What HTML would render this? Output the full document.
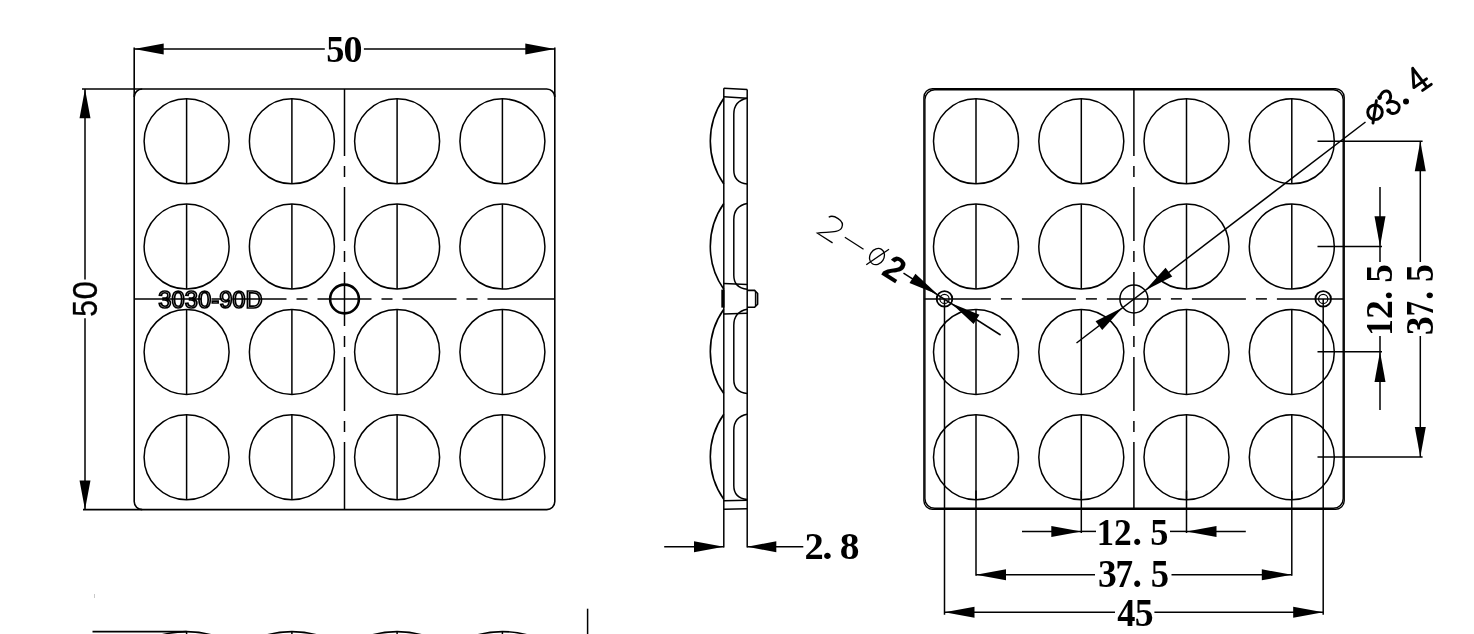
<!DOCTYPE html>
<html><head><meta charset="utf-8"><style>
html,body{margin:0;padding:0;background:#fff;width:1474px;height:634px;overflow:hidden;}
svg{display:block;filter:grayscale(100%);}
.d{font-family:"Liberation Serif",serif;font-weight:bold;}
</style></head><body><svg width="1474" height="634" viewBox="0 0 1474 634"><g stroke="#000" stroke-linecap="butt" fill="none"><rect x="134.2" y="89.0" width="420.60" height="420.60" rx="8" fill="none" stroke-width="1.6"/><line x1="134.20" y1="97.00" x2="134.20" y2="47.50" stroke-width="1.6"/><line x1="554.80" y1="97.00" x2="554.80" y2="47.50" stroke-width="1.6"/><line x1="142.20" y1="89.00" x2="82.00" y2="89.00" stroke-width="1.6"/><line x1="142.20" y1="509.60" x2="83.00" y2="509.60" stroke-width="1.6"/><line x1="134.20" y1="49.10" x2="324.80" y2="49.10" stroke-width="1.5"/><line x1="363.90" y1="49.10" x2="554.80" y2="49.10" stroke-width="1.5"/><polygon points="134.20,49.10 163.70,54.60 163.70,43.60" fill="#000" stroke="none"/><polygon points="554.80,49.10 525.30,43.60 525.30,54.60" fill="#000" stroke="none"/><line x1="85.00" y1="89.00" x2="85.00" y2="279.60" stroke-width="1.5"/><line x1="85.00" y1="318.30" x2="85.00" y2="509.60" stroke-width="1.5"/><polygon points="85.00,89.00 79.50,118.20 90.50,118.20" fill="#000" stroke="none"/><polygon points="85.00,509.60 90.50,480.40 79.50,480.40" fill="#000" stroke="none"/><circle cx="186.60" cy="141.30" r="42.50" fill="none" stroke-width="1.5"/><line x1="186.60" y1="98.80" x2="186.60" y2="183.80" stroke-width="1.5"/><circle cx="186.60" cy="246.60" r="42.50" fill="none" stroke-width="1.5"/><line x1="186.60" y1="204.10" x2="186.60" y2="289.10" stroke-width="1.5"/><circle cx="186.60" cy="351.90" r="42.50" fill="none" stroke-width="1.5"/><line x1="186.60" y1="309.40" x2="186.60" y2="394.40" stroke-width="1.5"/><circle cx="186.60" cy="457.20" r="42.50" fill="none" stroke-width="1.5"/><line x1="186.60" y1="414.70" x2="186.60" y2="499.70" stroke-width="1.5"/><circle cx="291.90" cy="141.30" r="42.50" fill="none" stroke-width="1.5"/><line x1="291.90" y1="98.80" x2="291.90" y2="183.80" stroke-width="1.5"/><circle cx="291.90" cy="246.60" r="42.50" fill="none" stroke-width="1.5"/><line x1="291.90" y1="204.10" x2="291.90" y2="289.10" stroke-width="1.5"/><circle cx="291.90" cy="351.90" r="42.50" fill="none" stroke-width="1.5"/><line x1="291.90" y1="309.40" x2="291.90" y2="394.40" stroke-width="1.5"/><circle cx="291.90" cy="457.20" r="42.50" fill="none" stroke-width="1.5"/><line x1="291.90" y1="414.70" x2="291.90" y2="499.70" stroke-width="1.5"/><circle cx="397.10" cy="141.30" r="42.50" fill="none" stroke-width="1.5"/><line x1="397.10" y1="98.80" x2="397.10" y2="183.80" stroke-width="1.5"/><circle cx="397.10" cy="246.60" r="42.50" fill="none" stroke-width="1.5"/><line x1="397.10" y1="204.10" x2="397.10" y2="289.10" stroke-width="1.5"/><circle cx="397.10" cy="351.90" r="42.50" fill="none" stroke-width="1.5"/><line x1="397.10" y1="309.40" x2="397.10" y2="394.40" stroke-width="1.5"/><circle cx="397.10" cy="457.20" r="42.50" fill="none" stroke-width="1.5"/><line x1="397.10" y1="414.70" x2="397.10" y2="499.70" stroke-width="1.5"/><circle cx="502.40" cy="141.30" r="42.50" fill="none" stroke-width="1.5"/><line x1="502.40" y1="98.80" x2="502.40" y2="183.80" stroke-width="1.5"/><circle cx="502.40" cy="246.60" r="42.50" fill="none" stroke-width="1.5"/><line x1="502.40" y1="204.10" x2="502.40" y2="289.10" stroke-width="1.5"/><circle cx="502.40" cy="351.90" r="42.50" fill="none" stroke-width="1.5"/><line x1="502.40" y1="309.40" x2="502.40" y2="394.40" stroke-width="1.5"/><circle cx="502.40" cy="457.20" r="42.50" fill="none" stroke-width="1.5"/><line x1="502.40" y1="414.70" x2="502.40" y2="499.70" stroke-width="1.5"/><line x1="317.50" y1="299.00" x2="371.50" y2="299.00" stroke-width="1.5"/><line x1="381.50" y1="299.00" x2="392.50" y2="299.00" stroke-width="1.5"/><line x1="296.50" y1="299.00" x2="307.50" y2="299.00" stroke-width="1.5"/><line x1="402.50" y1="299.00" x2="456.50" y2="299.00" stroke-width="1.5"/><line x1="232.50" y1="299.00" x2="286.50" y2="299.00" stroke-width="1.5"/><line x1="466.50" y1="299.00" x2="477.50" y2="299.00" stroke-width="1.5"/><line x1="211.50" y1="299.00" x2="222.50" y2="299.00" stroke-width="1.5"/><line x1="487.50" y1="299.00" x2="554.80" y2="299.00" stroke-width="1.5"/><line x1="134.20" y1="299.00" x2="201.50" y2="299.00" stroke-width="1.5"/><line x1="344.50" y1="272.00" x2="344.50" y2="326.00" stroke-width="1.5"/><line x1="344.50" y1="336.00" x2="344.50" y2="347.00" stroke-width="1.5"/><line x1="344.50" y1="251.00" x2="344.50" y2="262.00" stroke-width="1.5"/><line x1="344.50" y1="357.00" x2="344.50" y2="411.00" stroke-width="1.5"/><line x1="344.50" y1="187.00" x2="344.50" y2="241.00" stroke-width="1.5"/><line x1="344.50" y1="421.00" x2="344.50" y2="432.00" stroke-width="1.5"/><line x1="344.50" y1="166.00" x2="344.50" y2="177.00" stroke-width="1.5"/><line x1="344.50" y1="442.00" x2="344.50" y2="509.60" stroke-width="1.5"/><line x1="344.50" y1="89.00" x2="344.50" y2="156.00" stroke-width="1.5"/><circle cx="344.50" cy="299.00" r="14.40" fill="none" stroke-width="2.6"/><line x1="723.80" y1="88.20" x2="723.80" y2="547.60" stroke-width="1.5"/><line x1="747.20" y1="89.50" x2="747.20" y2="547.60" stroke-width="1.5"/><line x1="723.80" y1="88.20" x2="747.20" y2="89.50" stroke-width="1.5"/><line x1="723.80" y1="96.80" x2="747.20" y2="98.20" stroke-width="1.5"/><line x1="723.80" y1="283.50" x2="747.20" y2="284.40" stroke-width="1.5"/><line x1="723.80" y1="314.00" x2="747.20" y2="313.30" stroke-width="1.5"/><line x1="723.80" y1="500.80" x2="747.20" y2="500.20" stroke-width="1.5"/><line x1="723.80" y1="509.30" x2="747.20" y2="508.80" stroke-width="1.5"/><path d="M723.8,98.2 A74.91,74.91 0 0 0 723.8,184.0" fill="none" stroke-width="1.6"/><path d="M747.2,98.2 C737,100.2 733.8,106.2 733.8,114.2 L733.8,170.0 C733.8,178.0 737,183.0 747.2,184.0" fill="none" stroke-width="1.5"/><path d="M723.8,203.5 A74.91,74.91 0 0 0 723.8,289.3" fill="none" stroke-width="1.6"/><path d="M747.2,203.5 C737,205.5 733.8,211.5 733.8,219.5 L733.8,275.3 C733.8,283.3 737,288.3 747.2,289.3" fill="none" stroke-width="1.5"/><path d="M723.8,309.3 A72.39,72.39 0 0 0 723.8,393.5" fill="none" stroke-width="1.6"/><path d="M747.2,309.3 C737,311.3 733.8,317.3 733.8,325.3 L733.8,379.5 C733.8,387.5 737,392.5 747.2,393.5" fill="none" stroke-width="1.5"/><path d="M723.8,414.2 A73.96,73.96 0 0 0 723.8,499.4" fill="none" stroke-width="1.6"/><path d="M747.2,414.2 C737,416.2 733.8,422.2 733.8,430.2 L733.8,485.4 C733.8,493.4 737,498.4 747.2,499.4" fill="none" stroke-width="1.5"/><rect x="755.4" y="292" width="2" height="13.5" fill="#aaa" stroke="none"/><path d="M747.2,290.4 L754.6,290.4 L757.6,293.5 L757.6,304.2 L754.6,307.3 L747.2,307.3" fill="none" stroke-width="1.6"/><line x1="755.40" y1="291.00" x2="755.40" y2="306.80" stroke-width="1.1"/><rect x="721.3" y="289.6" width="3.2" height="18" fill="#000" stroke="none"/><line x1="664.20" y1="546.80" x2="723.80" y2="546.80" stroke-width="1.5"/><line x1="747.20" y1="546.80" x2="803.30" y2="546.80" stroke-width="1.5"/><polygon points="723.80,546.80 694.00,541.30 694.00,552.30" fill="#000" stroke="none"/><polygon points="747.20,546.80 776.30,552.30 776.30,541.30" fill="#000" stroke="none"/><rect x="923.9" y="88.8" width="420.30" height="420.50" rx="8.5" fill="none" stroke-width="1.4"/><rect x="924.9" y="89.8" width="418.30" height="418.50" rx="9.8" fill="none" stroke-width="1.4"/><circle cx="976.00" cy="141.30" r="42.50" fill="none" stroke-width="1.5"/><line x1="976.00" y1="98.80" x2="976.00" y2="183.80" stroke-width="1.5"/><circle cx="976.00" cy="246.60" r="42.50" fill="none" stroke-width="1.5"/><line x1="976.00" y1="204.10" x2="976.00" y2="289.10" stroke-width="1.5"/><circle cx="976.00" cy="351.90" r="42.50" fill="none" stroke-width="1.5"/><line x1="976.00" y1="309.40" x2="976.00" y2="394.40" stroke-width="1.5"/><circle cx="976.00" cy="457.20" r="42.50" fill="none" stroke-width="1.5"/><line x1="976.00" y1="414.70" x2="976.00" y2="499.70" stroke-width="1.5"/><circle cx="1081.30" cy="141.30" r="42.50" fill="none" stroke-width="1.5"/><line x1="1081.30" y1="98.80" x2="1081.30" y2="183.80" stroke-width="1.5"/><circle cx="1081.30" cy="246.60" r="42.50" fill="none" stroke-width="1.5"/><line x1="1081.30" y1="204.10" x2="1081.30" y2="289.10" stroke-width="1.5"/><circle cx="1081.30" cy="351.90" r="42.50" fill="none" stroke-width="1.5"/><line x1="1081.30" y1="309.40" x2="1081.30" y2="394.40" stroke-width="1.5"/><circle cx="1081.30" cy="457.20" r="42.50" fill="none" stroke-width="1.5"/><line x1="1081.30" y1="414.70" x2="1081.30" y2="499.70" stroke-width="1.5"/><circle cx="1186.50" cy="141.30" r="42.50" fill="none" stroke-width="1.5"/><line x1="1186.50" y1="98.80" x2="1186.50" y2="183.80" stroke-width="1.5"/><circle cx="1186.50" cy="246.60" r="42.50" fill="none" stroke-width="1.5"/><line x1="1186.50" y1="204.10" x2="1186.50" y2="289.10" stroke-width="1.5"/><circle cx="1186.50" cy="351.90" r="42.50" fill="none" stroke-width="1.5"/><line x1="1186.50" y1="309.40" x2="1186.50" y2="394.40" stroke-width="1.5"/><circle cx="1186.50" cy="457.20" r="42.50" fill="none" stroke-width="1.5"/><line x1="1186.50" y1="414.70" x2="1186.50" y2="499.70" stroke-width="1.5"/><circle cx="1291.80" cy="141.30" r="42.50" fill="none" stroke-width="1.5"/><line x1="1291.80" y1="98.80" x2="1291.80" y2="183.80" stroke-width="1.5"/><circle cx="1291.80" cy="246.60" r="42.50" fill="none" stroke-width="1.5"/><line x1="1291.80" y1="204.10" x2="1291.80" y2="289.10" stroke-width="1.5"/><circle cx="1291.80" cy="351.90" r="42.50" fill="none" stroke-width="1.5"/><line x1="1291.80" y1="309.40" x2="1291.80" y2="394.40" stroke-width="1.5"/><circle cx="1291.80" cy="457.20" r="42.50" fill="none" stroke-width="1.5"/><line x1="1291.80" y1="414.70" x2="1291.80" y2="499.70" stroke-width="1.5"/><line x1="1106.90" y1="298.90" x2="1160.90" y2="298.90" stroke-width="1.5"/><line x1="1170.90" y1="298.90" x2="1181.90" y2="298.90" stroke-width="1.5"/><line x1="1085.90" y1="298.90" x2="1096.90" y2="298.90" stroke-width="1.5"/><line x1="1191.90" y1="298.90" x2="1245.90" y2="298.90" stroke-width="1.5"/><line x1="1021.90" y1="298.90" x2="1075.90" y2="298.90" stroke-width="1.5"/><line x1="1255.90" y1="298.90" x2="1266.90" y2="298.90" stroke-width="1.5"/><line x1="1000.90" y1="298.90" x2="1011.90" y2="298.90" stroke-width="1.5"/><line x1="1276.90" y1="298.90" x2="1343.70" y2="298.90" stroke-width="1.5"/><line x1="924.40" y1="298.90" x2="990.90" y2="298.90" stroke-width="1.5"/><line x1="1133.90" y1="271.90" x2="1133.90" y2="325.90" stroke-width="1.5"/><line x1="1133.90" y1="335.90" x2="1133.90" y2="346.90" stroke-width="1.5"/><line x1="1133.90" y1="250.90" x2="1133.90" y2="261.90" stroke-width="1.5"/><line x1="1133.90" y1="356.90" x2="1133.90" y2="410.90" stroke-width="1.5"/><line x1="1133.90" y1="186.90" x2="1133.90" y2="240.90" stroke-width="1.5"/><line x1="1133.90" y1="420.90" x2="1133.90" y2="431.90" stroke-width="1.5"/><line x1="1133.90" y1="165.90" x2="1133.90" y2="176.90" stroke-width="1.5"/><line x1="1133.90" y1="441.90" x2="1133.90" y2="508.80" stroke-width="1.5"/><line x1="1133.90" y1="89.30" x2="1133.90" y2="155.90" stroke-width="1.5"/><circle cx="1133.90" cy="298.90" r="14.00" fill="none" stroke-width="1.5"/><circle cx="944.50" cy="298.90" r="7.80" fill="none" stroke-width="1.8"/><circle cx="944.50" cy="298.90" r="4.60" fill="none" stroke-width="1.2"/><line x1="944.50" y1="298.90" x2="944.50" y2="614.80" stroke-width="1.5"/><circle cx="1323.20" cy="298.90" r="7.80" fill="none" stroke-width="1.8"/><circle cx="1323.20" cy="298.90" r="4.60" fill="none" stroke-width="1.2"/><line x1="1323.20" y1="298.90" x2="1323.20" y2="614.80" stroke-width="1.5"/><line x1="976.00" y1="490.50" x2="976.00" y2="575.80" stroke-width="1.5"/><line x1="1291.80" y1="490.50" x2="1291.80" y2="575.80" stroke-width="1.5"/><line x1="1081.30" y1="490.50" x2="1081.30" y2="533.00" stroke-width="1.5"/><line x1="1186.50" y1="490.50" x2="1186.50" y2="533.00" stroke-width="1.5"/><line x1="1022.00" y1="531.40" x2="1081.30" y2="531.40" stroke-width="1.5"/><line x1="1186.50" y1="531.40" x2="1245.80" y2="531.40" stroke-width="1.5"/><line x1="1081.30" y1="531.40" x2="1096.00" y2="531.40" stroke-width="1.5"/><line x1="1170.00" y1="531.40" x2="1186.50" y2="531.40" stroke-width="1.5"/><polygon points="1081.30,531.40 1051.30,525.90 1051.30,536.90" fill="#000" stroke="none"/><polygon points="1186.50,531.40 1216.50,536.90 1216.50,525.90" fill="#000" stroke="none"/><line x1="976.00" y1="574.80" x2="1095.00" y2="574.80" stroke-width="1.5"/><line x1="1171.50" y1="574.80" x2="1291.80" y2="574.80" stroke-width="1.5"/><polygon points="976.00,574.80 1006.00,580.30 1006.00,569.30" fill="#000" stroke="none"/><polygon points="1291.80,574.80 1261.80,569.30 1261.80,580.30" fill="#000" stroke="none"/><line x1="944.50" y1="612.30" x2="1115.00" y2="612.30" stroke-width="1.5"/><line x1="1154.40" y1="612.30" x2="1323.20" y2="612.30" stroke-width="1.5"/><polygon points="944.50,612.30 974.50,617.80 974.50,606.80" fill="#000" stroke="none"/><polygon points="1323.20,612.30 1293.20,606.80 1293.20,617.80" fill="#000" stroke="none"/><line x1="1317.50" y1="141.20" x2="1422.60" y2="141.20" stroke-width="1.5"/><line x1="1317.50" y1="457.00" x2="1422.60" y2="457.00" stroke-width="1.5"/><line x1="1317.50" y1="246.40" x2="1382.00" y2="246.40" stroke-width="1.5"/><line x1="1317.50" y1="351.80" x2="1382.00" y2="351.80" stroke-width="1.5"/><line x1="1380.00" y1="187.00" x2="1380.00" y2="262.00" stroke-width="1.5"/><line x1="1380.00" y1="336.00" x2="1380.00" y2="410.00" stroke-width="1.5"/><polygon points="1380.00,246.40 1385.50,216.20 1374.50,216.20" fill="#000" stroke="none"/><polygon points="1380.00,351.80 1374.50,382.00 1385.50,382.00" fill="#000" stroke="none"/><line x1="1420.30" y1="141.20" x2="1420.30" y2="262.00" stroke-width="1.5"/><line x1="1420.30" y1="336.00" x2="1420.30" y2="457.00" stroke-width="1.5"/><polygon points="1420.30,141.20 1414.80,171.20 1425.80,171.20" fill="#000" stroke="none"/><polygon points="1420.30,457.00 1425.80,427.00 1414.80,427.00" fill="#000" stroke="none"/><line x1="1076.50" y1="343.00" x2="1365.50" y2="122.00" stroke-width="1.5"/><polygon points="1145.04,290.42 1172.23,276.61 1165.57,267.86" fill="#000" stroke="none"/><polygon points="1122.76,307.38 1095.57,321.19 1102.23,329.94" fill="#000" stroke="none"/><line x1="903.50" y1="273.20" x2="1000.60" y2="335.00" stroke-width="1.5"/><polygon points="937.75,294.60 915.41,273.84 909.50,283.12" fill="#000" stroke="none"/><polygon points="951.25,303.20 973.59,323.96 979.50,314.68" fill="#000" stroke="none"/><line x1="92.50" y1="631.60" x2="186.60" y2="631.60" stroke-width="1.6"/><circle cx="186.60" cy="726.60" r="95.00" fill="none" stroke-width="1.6"/><line x1="186.60" y1="631.50" x2="186.60" y2="640.00" stroke-width="1.5"/><circle cx="291.90" cy="726.60" r="95.00" fill="none" stroke-width="1.6"/><line x1="291.90" y1="631.50" x2="291.90" y2="640.00" stroke-width="1.5"/><circle cx="397.10" cy="726.60" r="95.00" fill="none" stroke-width="1.6"/><line x1="397.10" y1="631.50" x2="397.10" y2="640.00" stroke-width="1.5"/><circle cx="502.40" cy="726.60" r="95.00" fill="none" stroke-width="1.6"/><line x1="502.40" y1="631.50" x2="502.40" y2="640.00" stroke-width="1.5"/><line x1="587.60" y1="608.70" x2="587.60" y2="634.00" stroke-width="1.5"/><line x1="94.5" y1="594" x2="94.5" y2="598" stroke="#bbb" stroke-width="0.8"/></g><g fill="#000"><text font-family="Liberation Serif" font-weight="bold" font-size="100" transform="matrix(0.3638,0,0,0.3853,326.14,61.62)" >5</text><text font-family="Liberation Serif" font-weight="bold" font-size="100" transform="matrix(0.3799,0,0,0.3853,343.55,61.62)" >0</text><text font-family="Liberation Serif" font-weight="bold" font-size="100" transform="matrix(0.3855,0,0,0.3838,804.38,559.43)" >2</text><text font-family="Liberation Serif" font-weight="bold" font-size="100" transform="matrix(0.4133,0,0,0.3838,822.28,559.43)" >.</text><text font-family="Liberation Serif" font-weight="bold" font-size="100" transform="matrix(0.3944,0,0,0.3838,839.79,559.43)" >8</text><text font-family="Liberation Serif" font-weight="bold" font-size="100" transform="matrix(0.3450,0,0,0.3825,1096.64,544.73)" >1</text><text font-family="Liberation Serif" font-weight="bold" font-size="100" transform="matrix(0.3542,0,0,0.3825,1114.01,544.73)" >2</text><text font-family="Liberation Serif" font-weight="bold" font-size="100" transform="matrix(0.3763,0,0,0.3825,1132.55,544.73)" >.</text><text font-family="Liberation Serif" font-weight="bold" font-size="100" transform="matrix(0.3638,0,0,0.3825,1150.24,544.73)" >5</text><text font-family="Liberation Serif" font-weight="bold" font-size="100" transform="matrix(0.3760,0,0,0.3900,1097.99,587.42)" >3</text><text font-family="Liberation Serif" font-weight="bold" font-size="100" transform="matrix(0.3513,0,0,0.3900,1115.49,587.42)" >7</text><text font-family="Liberation Serif" font-weight="bold" font-size="100" transform="matrix(0.3763,0,0,0.3900,1132.55,587.42)" >.</text><text font-family="Liberation Serif" font-weight="bold" font-size="100" transform="matrix(0.3661,0,0,0.3900,1150.83,587.42)" >5</text><text font-family="Liberation Serif" font-weight="bold" font-size="100" transform="matrix(0.3634,0,0,0.3952,1117.30,625.71)" >4</text><text font-family="Liberation Serif" font-weight="bold" font-size="100" transform="matrix(0.3779,0,0,0.3952,1134.69,625.71)" >5</text><g stroke="#000" stroke-width="0.9"><g transform="rotate(-90)"><text font-family="Liberation Sans" font-weight="normal" font-size="100" transform="matrix(0.2995,0,0,0.3503,-316.80,96.96)" >5</text><text font-family="Liberation Sans" font-weight="normal" font-size="100" transform="matrix(0.3305,0,0,0.3503,-299.59,96.96)" >0</text></g></g><g transform="rotate(-90)"><text font-family="Liberation Serif" font-weight="bold" font-size="100" transform="matrix(0.3287,0,0,0.3795,-335.73,1392.23)" >1</text><text font-family="Liberation Serif" font-weight="bold" font-size="100" transform="matrix(0.3783,0,0,0.3795,-319.09,1392.23)" >2</text><text font-family="Liberation Serif" font-weight="bold" font-size="100" transform="matrix(0.3516,0,0,0.3795,-299.85,1392.23)" >.</text><text font-family="Liberation Serif" font-weight="bold" font-size="100" transform="matrix(0.3709,0,0,0.3795,-282.78,1392.23)" >5</text></g><g transform="rotate(-90)"><text font-family="Liberation Serif" font-weight="bold" font-size="100" transform="matrix(0.3806,0,0,0.3914,-335.23,1433.42)" >3</text><text font-family="Liberation Serif" font-weight="bold" font-size="100" transform="matrix(0.3059,0,0,0.3914,-316.35,1433.42)" >7</text><text font-family="Liberation Serif" font-weight="bold" font-size="100" transform="matrix(0.3516,0,0,0.3914,-299.85,1433.42)" >.</text><text font-family="Liberation Serif" font-weight="bold" font-size="100" transform="matrix(0.3543,0,0,0.3914,-282.02,1433.42)" >5</text></g><text x="158.3" y="307.7" font-family="Liberation Sans" font-size="23.6" fill="none" stroke="#000" stroke-width="1.7" textLength="104.5" lengthAdjust="spacingAndGlyphs">3030-90D</text><g stroke="#000" fill="none" stroke-width="2.9" stroke-linecap="round" stroke-linejoin="round"><circle cx="1375" cy="112.3" r="7.3"/><line x1="1376.4" y1="100.6" x2="1373" y2="123"/><path d="M1379.7,98.1 C1380.5,93 1384,90.8 1386.5,91 C1390,91.3 1391.2,95 1390.4,98.3 C1389.8,100.5 1388.5,102 1387.2,102.9 C1391.5,100.5 1396.5,101.5 1398.8,105 C1400.2,108 1398.5,111.8 1395.5,113 C1392.5,114.2 1389.8,113 1388.4,110.4"/><path d="M1412.7,68.3 L1413.9,87.6 L1426.5,78.9 M1412.7,68.3 L1426.9,87.2 M1422.6,90.4 L1431.3,84.4"/></g><circle cx="1406" cy="101.4" r="3" fill="#000"/><circle cx="1379.6" cy="97.6" r="2.3" fill="#000"/><circle cx="1388.6" cy="110.6" r="2.3" fill="#000"/><g transform="translate(817.4,233.2) rotate(32.5)" stroke="#000" fill="none" stroke-width="1.3"><path d="M1,-19.5 C3,-24.5 16.5,-25.5 17.5,-18 C18.5,-11.5 6.5,-6 0,0 L18,0"/><line x1="25.3" y1="-11.4" x2="47.5" y2="-11.3"/><ellipse cx="62.8" cy="-12.3" rx="7" ry="8.5"/><line x1="58.1" y1="0.3" x2="69" y2="-25"/></g><g transform="translate(817.4,233.2) rotate(32.5)"><text font-family="Liberation Sans" font-weight="bold" font-size="100" transform="matrix(0.3427,0,0,0.3509,74.81,0.50)" >2</text></g></g></svg></body></html>
